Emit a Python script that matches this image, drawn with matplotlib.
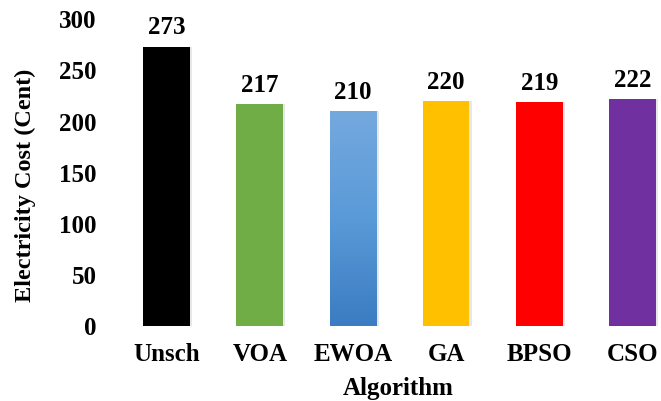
import numpy as np
import matplotlib
matplotlib.use("Agg")
from matplotlib import pyplot as plt
from matplotlib.colors import LinearSegmentedColormap

algorithms = ["Unsch", "VOA", "EWOA", "GA", "BPSO", "CSO"]
cost = [273, 217, 210, 220, 219, 222]
colors = ["#000000", "#70AD47", "#5B9BD5", "#FFC000", "#FF0000", "#7030A0"]

plt.rcParams["font.family"] = ["Liberation Serif", "DejaVu Serif"]
plt.rcParams["font.weight"] = "bold"

fig = plt.figure(figsize=(6.61, 4.01), dpi=100)
# axes box in pixels: left 120, right 661, bottom 326, top 19.4
ax = fig.add_axes([120 / 661, 1 - 326 / 401, 541 / 661, (326 - 19.4) / 401])

x = np.arange(len(algorithms))
width = 0.5

# faint shadow on the right side of each bar
ax.bar(x + 0.025, cost, width, color="#d0d0d0", alpha=0.5, zorder=1)
bars = ax.bar(x, cost, width, color=colors, zorder=2)

# EWOA bar has a vertical gradient fill
ewoa = bars[2]
grad = LinearSegmentedColormap.from_list("ewoa", ["#3B7CC2", "#5A9AD8", "#74A9DE"])
img = ax.imshow(np.linspace(0, 1, 256).reshape(-1, 1), cmap=grad, aspect="auto",
                origin="lower", extent=[ewoa.get_x(), ewoa.get_x() + ewoa.get_width(), 0, ewoa.get_height()],
                zorder=3)
img.set_clip_path(ewoa)

fs = 18
for xi, v in zip(x, cost):
    ax.annotate(str(v), (xi, v), xytext=(0, 9), textcoords="offset points",
                ha="center", va="baseline", fontsize=fs, fontweight="bold", annotation_clip=False)

ax.set_xlim(-0.5, 5.306)
ax.set_ylim(0, 300)
ax.set_yticks(range(0, 301, 50))
ax.set_xticks(x)
ax.set_xticklabels(algorithms)
ax.tick_params(axis="both", length=0, labelsize=fs)
ax.tick_params(axis="y", pad=17)
ax.tick_params(axis="x", pad=12)
for side in ["top", "right", "bottom", "left"]:
    ax.spines[side].set_visible(False)

ax.set_xlabel("Algorithm", fontsize=fs, fontweight="bold")
ax.xaxis.set_label_coords(0.514, -0.205)
ax.xaxis.label.set_va("center")
ax.set_ylabel("Electricity Cost (Cent)", fontsize=17.5, fontweight="bold")
ax.yaxis.set_label_coords(-0.1756, 0.46)
ax.yaxis.label.set_va("center")

fig.savefig("out.png", dpi=100)
